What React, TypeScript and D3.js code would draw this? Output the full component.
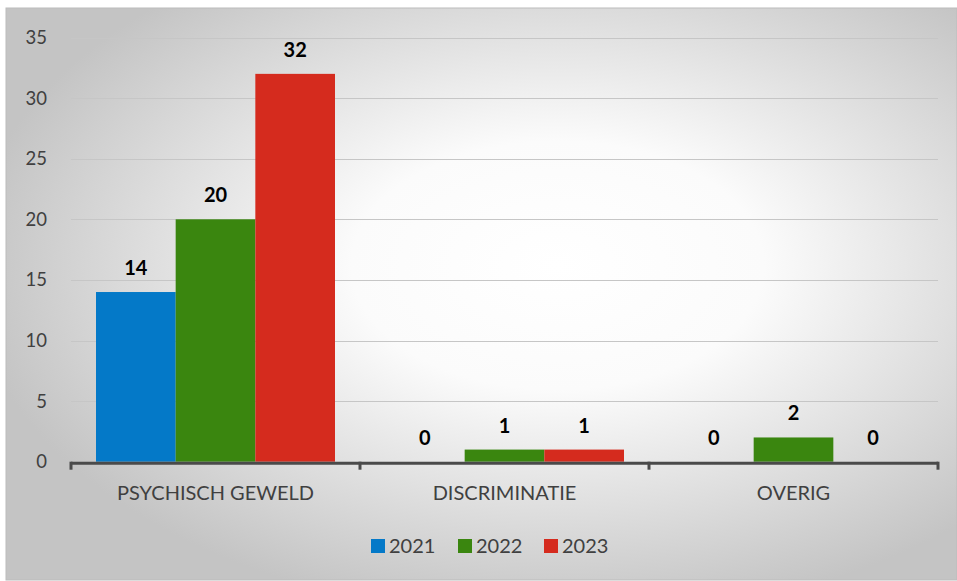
import React, { useRef, useEffect } from "react";
import * as d3 from "d3";

const categories = ["PSYCHISCH GEWELD", "DISCRIMINATIE", "OVERIG"];
const years = ["2021", "2022", "2023"];
const values2021 = [14, 0, 0];
const values2022 = [20, 1, 2];
const values2023 = [32, 1, 0];
const yTicks = [0, 5, 10, 15, 20, 25, 30, 35];
const colors = ["#0479c8", "#3a860f", "#d52b1e"];

const App: React.FC = () => {
  const ref = useRef<SVGSVGElement | null>(null);

  useEffect(() => {
    if (!ref.current) return;
    const svg = d3.select(ref.current);
    svg.selectAll("*").remove();

    const width = 957;
    const height = 581;
    const font = "Lato, 'Open Sans', sans-serif";
    const series = [values2021, values2022, values2023];

    const defs = svg.append("defs");
    const grad = defs
      .append("radialGradient")
      .attr("id", "bg")
      .attr("cx", "58%")
      .attr("cy", "45%")
      .attr("r", "62%");
    grad.append("stop").attr("offset", "0%").attr("stop-color", "#ffffff");
    grad.append("stop").attr("offset", "35%").attr("stop-color", "#fbfbfb");
    grad.append("stop").attr("offset", "100%").attr("stop-color", "#c4c4c4");

    svg
      .append("rect")
      .attr("x", 6)
      .attr("y", 8)
      .attr("width", width - 6)
      .attr("height", height - 9)
      .attr("fill", "url(#bg)")
      .attr("stroke", "#bcbcbc")
      .attr("stroke-width", 1);

    const x0 = d3.scaleBand<string>().domain(categories).range([71, 938]).padding(0);
    const x1 = d3
      .scaleBand<string>()
      .domain(years)
      .range([25, x0.bandwidth() - 25])
      .padding(0);
    const y = d3.scaleLinear().domain([0, 35]).range([461.7, 37.5]);

    // grid
    svg
      .append("g")
      .selectAll("line")
      .data(yTicks.filter((t) => t > 0))
      .enter()
      .append("line")
      .attr("x1", 71)
      .attr("x2", 938)
      .attr("y1", (d) => Math.round(y(d)) + 0.5)
      .attr("y2", (d) => Math.round(y(d)) + 0.5)
      .attr("stroke", "#c6c6c6")
      .attr("stroke-width", 1.2);

    // y labels
    svg
      .append("g")
      .selectAll("text")
      .data(yTicks)
      .enter()
      .append("text")
      .attr("x", 47)
      .attr("y", (d) => y(d))
      .attr("dy", "0.35em")
      .attr("text-anchor", "end")
      .attr("font-family", font)
      .attr("font-size", 18.5)
      .attr("fill", "#404040")
      .text((d) => d);

    // bars
    const groups = svg
      .append("g")
      .selectAll("g")
      .data(categories)
      .enter()
      .append("g")
      .attr("transform", (d) => `translate(${x0(d)},0)`);

    groups
      .selectAll("rect")
      .data((d, i) => years.map((yr, j) => ({ yr, j, v: series[j][i] })))
      .enter()
      .append("rect")
      .attr("x", (d) => x1(d.yr) as number)
      .attr("width", x1.bandwidth())
      .attr("y", (d) => y(d.v))
      .attr("height", (d) => y(0) - y(d.v))
      .attr("fill", (d) => colors[d.j]);

    groups
      .selectAll("text")
      .data((d, i) => years.map((yr, j) => ({ yr, j, v: series[j][i] })))
      .enter()
      .append("text")
      .attr("x", (d) => (x1(d.yr) as number) + x1.bandwidth() / 2)
      .attr("y", (d) => y(d.v) - 17)
      .attr("text-anchor", "middle")
      .attr("font-family", font)
      .attr("font-size", 20)
      .attr("font-weight", "bold")
      .attr("fill", "#000000")
      .text((d) => d.v);

    // x axis
    const axis = svg.append("g");
    axis
      .append("line")
      .attr("x1", 71)
      .attr("x2", 938)
      .attr("y1", y(0) + 1.5)
      .attr("y2", y(0) + 1.5)
      .attr("stroke", "#4a4a4a")
      .attr("stroke-width", 3);
    const tickXs = categories.map((c) => x0(c) as number).concat([938]);
    axis
      .selectAll("line.tick")
      .data(tickXs)
      .enter()
      .append("line")
      .attr("class", "tick")
      .attr("x1", (d) => d)
      .attr("x2", (d) => d)
      .attr("y1", y(0))
      .attr("y2", y(0) + 8)
      .attr("stroke", "#4a4a4a")
      .attr("stroke-width", 3);
    axis
      .selectAll("text")
      .data(categories)
      .enter()
      .append("text")
      .attr("x", (d) => (x0(d) as number) + x0.bandwidth() / 2)
      .attr("y", 493)
      .attr("dy", "0.35em")
      .attr("text-anchor", "middle")
      .attr("font-family", font)
      .attr("font-size", 20)
      .attr("fill", "#404040")
      .text((d) => d);

    // legend
    const legendX = [371, 458, 544];
    const legend = svg
      .append("g")
      .selectAll("g")
      .data(years)
      .enter()
      .append("g")
      .attr("transform", (d, i) => `translate(${legendX[i]},546)`);
    legend
      .append("rect")
      .attr("x", 0)
      .attr("y", -7)
      .attr("width", 14)
      .attr("height", 14)
      .attr("fill", (d, i) => colors[i]);
    legend
      .append("text")
      .attr("x", 18)
      .attr("y", 0)
      .attr("dy", "0.35em")
      .attr("font-family", font)
      .attr("font-size", 20)
      .attr("fill", "#404040")
      .text((d) => d);
  }, []);

  return (
    <svg
      ref={ref}
      width={957}
      height={581}
      style={{ position: "absolute", left: 0, top: 0 }}
    />
  );
};

export default App;
